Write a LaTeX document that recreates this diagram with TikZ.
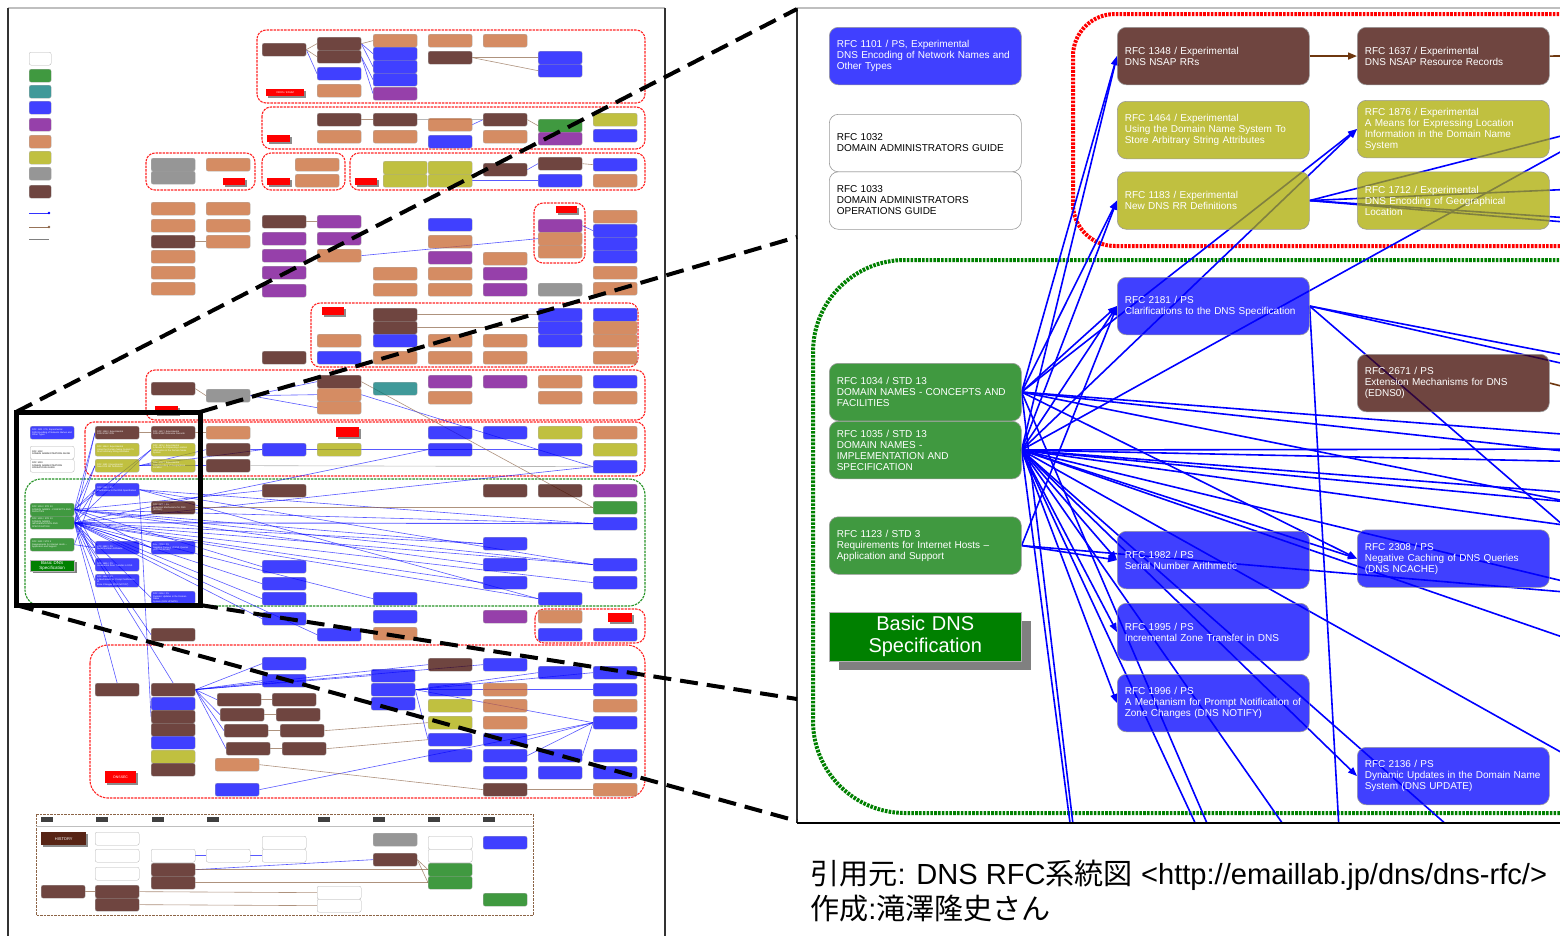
\documentclass[tikz,border=0pt]{standalone}
\usepackage{fontspec}
\setmainfont{Liberation Sans}
\newfontfamily\cjkfont{Noto Sans CJK JP}
\usetikzlibrary{arrows.meta,shadows}
\pgfdeclarelayer{back}
\pgfdeclarelayer{lines}
\pgfsetlayers{back,lines,main}
\definecolor{pblue}{RGB}{0,0,255}
\definecolor{pbrown}{RGB}{64,8,0}
\definecolor{polive}{RGB}{171,171,0}
\definecolor{pgreen}{RGB}{0,119,0}
\definecolor{ptan}{RGB}{200,102,48}
\definecolor{ppurple}{RGB}{115,0,142}
\definecolor{pgrey}{RGB}{115,115,115}
\definecolor{pteal}{RGB}{0,119,119}
\definecolor{cdgreen}{RGB}{0,128,0}
\definecolor{cline}{RGB}{0,0,255}
\definecolor{cred}{RGB}{255,0,0}
\definecolor{cbrline}{RGB}{110,55,15}
\definecolor{ctl}{RGB}{140,100,70}
\newcommand\rfcfont{\fontsize{10}{11}\selectfont}
\newcommand\tinyfont{\fontsize{2.28}{2.5}\selectfont}
\newcommand\rfcTa{RFC 1101 / PS, Experimental\\DNS Encoding of Network Names and\\Other Types}
\newcommand\rfcTb{RFC 1032\\DOMAIN ADMINISTRATORS GUIDE}
\newcommand\rfcTc{RFC 1033\\DOMAIN ADMINISTRATORS\\OPERATIONS GUIDE}
\newcommand\rfcTd{RFC 1348 / Experimental\\DNS NSAP RRs}
\newcommand\rfcTe{RFC 1637 / Experimental\\DNS NSAP Resource Records}
\newcommand\rfcTf{RFC 1464 / Experimental\\Using the Domain Name System To\\Store Arbitrary String Attributes}
\newcommand\rfcTg{RFC 1876 / Experimental\\A Means for Expressing Location\\Information in the Domain Name\\System}
\newcommand\rfcTh{RFC 1183 / Experimental\\New DNS RR Definitions}
\newcommand\rfcTi{RFC 1712 / Experimental\\DNS Encoding of Geographical\\Location}
\newcommand\rfcTj{RFC 2181 / PS\\Clarifications to the DNS Specification}
\newcommand\rfcTk{RFC 2671 / PS\\Extension Mechanisms for DNS\\(EDNS0)}
\newcommand\rfcTl{RFC 1034 / STD 13\\DOMAIN NAMES - CONCEPTS AND\\FACILITIES}
\newcommand\rfcTm{RFC 1035 / STD 13\\DOMAIN NAMES -\\IMPLEMENTATION AND\\SPECIFICATION}
\newcommand\rfcTn{RFC 1123 / STD 3\\Requirements for Internet Hosts –\\Application and Support}
\newcommand\rfcTo{RFC 1982 / PS\\Serial Number Arithmetic}
\newcommand\rfcTp{RFC 1995 / PS\\Incremental Zone Transfer in DNS}
\newcommand\rfcTq{RFC 1996 / PS\\A Mechanism for Prompt Notification of\\Zone Changes (DNS NOTIFY)}
\newcommand\rfcTr{RFC 2308 / PS\\Negative Caching of DNS Queries\\(DNS NCACHE)}
\newcommand\rfcTs{RFC 2136 / PS\\Dynamic Updates in the Domain Name\\System (DNS UPDATE)}
\begin{document}
\begin{tikzpicture}[x=1pt,y=-1pt,
 pbox/.style={draw=black!40, line width=0.6pt, rounded corners=9pt, minimum width=192pt, minimum height=57.5pt, text width=177pt, inner xsep=7.5pt, inner ysep=0pt, align=left, font=\rfcfont, text=white, anchor=north west, fill opacity=0.75, text opacity=1},
 tb/.style={draw=black!30, line width=0.3pt, rounded corners=2pt, minimum width=44pt, minimum height=13pt, inner sep=0pt, anchor=north west, fill opacity=0.75},
 tbt/.style={tb, text width=40pt, inner xsep=2pt, align=left, font=\tinyfont, text=white, text opacity=1},
 tleg/.style={tb, minimum width=22pt},
 glab/.style={fill=cred, inner sep=0pt, anchor=north west, drop shadow={shadow xshift=1.4pt, shadow yshift=-1.4pt, fill=black!45, opacity=1}, text=white, font=\fontsize{2.6}{3}\selectfont},
 ylab/.style={fill=black!75, minimum width=12pt, minimum height=5pt, inner sep=0pt, anchor=north west},
 tgrp/.style={draw=cred!85, line width=1.1pt, dash pattern=on 2.5pt off 1pt, rounded corners=9pt},
 tgrpg/.style={draw=cdgreen!85, line width=1.1pt, dash pattern=on 2.5pt off 1pt, rounded corners=16pt},
 hgrp/.style={draw=ctl, line width=1pt, dash pattern=on 2.5pt off 1pt},
 tln/.style={draw=cline, line width=0.6pt, draw opacity=0.65},
 tlb/.style={draw=ctl, line width=0.6pt, draw opacity=0.7},
 tlg/.style={draw=black!40, line width=0.6pt, draw opacity=0.7},
 pl/.style={draw=cline, line width=1.6pt},
 pla/.style={pl, -{Triangle[length=9pt,width=7pt]}},
 plb/.style={draw=cbrline, line width=1.6pt},
 rdot/.style={draw=cred, line width=4pt, dash pattern=on 2.6pt off 1.2pt, rounded corners=42pt},
 gdot/.style={draw=cdgreen, line width=4pt, dash pattern=on 2.6pt off 1.2pt, rounded corners=92pt},
 mag/.style={draw=black, line width=4pt, dash pattern=on 18pt off 9pt},
 basicbox/.style={draw=black!30, fill=cdgreen, minimum width=192pt, minimum height=49pt, text width=192pt, inner sep=0pt, align=center, font=\fontsize{20}{22}\selectfont, text=white, anchor=north west, drop shadow={shadow xshift=10pt, shadow yshift=-9pt, fill=black!50, opacity=1}},
 tbasic/.style={draw=black!30, fill=cdgreen, minimum width=44pt, minimum height=11pt, text width=44pt, inner sep=0pt, align=center, font=\fontsize{4.5}{5}\selectfont, text=white, anchor=north west, drop shadow={shadow xshift=2.3pt, shadow yshift=-2pt, fill=black!50, opacity=1}}
]
\useasboundingbox (0,0) rectangle (1560,935);
\begin{pgfonlayer}{back}
\fill[white] (0,0) rectangle (1560,935);
\end{pgfonlayer}

% ================= LEFT: thumbnail =================
\begin{pgfonlayer}{lines}
\draw[tgrp] (257,30) rectangle (645,103);
\draw[tgrp] (262,107) rectangle (645,149);
\draw[tgrp] (146,153) rectangle (255,190);
\draw[tgrp] (262,153) rectangle (345,190);
\draw[tgrp] (350,153) rectangle (645,190);
\draw[tgrp] (534,203) rectangle (585,263);
\draw[tgrp] (311,303) rectangle (638,367);
\draw[tgrp] (146,370) rectangle (645,420);
\draw[tgrp] (85,422) rectangle (645,476);
\draw[tgrpg] (25,479) rectangle (645,606);
\draw[tgrp] (535,609) rectangle (645,643);
\draw[tgrp, rounded corners=18pt] (90,645) rectangle (645,798);
\draw[hgrp] (36,814) rectangle (533,915);
\draw[black!25, line width=0.6pt] (36,826) -- (533,826);
\end{pgfonlayer}

% legend
\foreach \y/\c in {52/white,69/pgreen,85/pteal,101/pblue,118/ppurple,135/ptan,151/polive,167/pgrey,185/pbrown}
  {\node[tleg, fill=\c] (l\y) at (29,\y) {};}
\draw[tln, draw opacity=0.8] (29,213) -- (49,213); \fill[cline] (49,213) circle (1.3);
\draw[tlb, draw opacity=0.9] (29,227) -- (49,227); \fill[ctl] (49,227) circle (1.3);
\draw[black!50, line width=0.4pt] (29,239) -- (49,239);

% generic thumbnail boxes
\foreach \x/\y/\c in {262/43/pbrown,317/37/pbrown,317/50/pbrown,317/67/pblue,317/84/ptan,373/34/ptan,373/47/pblue,373/60/pblue,373/73/pblue,373/87/ppurple,428/34/ptan,428/51/pbrown,483/34/ptan,538/51/pblue,538/64/pblue,
317/113/pbrown,317/130/ptan,373/113/pbrown,373/130/ptan,428/118/ptan,428/135/pblue,483/113/pbrown,483/130/ptan,538/119/pgreen,538/132/ppurple,593/113/polive,593/129/pblue,
151/158/pgrey,151/171/pgrey,206/158/ptan,295/158/ptan,295/174/ptan,
383/161/polive,383/174/polive,428/161/polive,428/174/polive,483/163/pbrown,538/157/pbrown,538/174/pblue,593/158/pblue,593/174/ptan,
151/202/ptan,151/219/ptan,151/235/pbrown,151/250/ptan,151/266/ptan,151/282/ptan,206/202/ptan,206/219/ptan,206/235/ptan,262/215/pbrown,262/232/ppurple,262/249/ppurple,262/266/ppurple,262/284/ppurple,317/215/ppurple,317/232/ppurple,317/249/ptan,373/267/ptan,373/283/ptan,428/218/pblue,428/235/ptan,428/251/ppurple,428/267/ptan,428/283/ptan,483/252/ptan,483/267/ppurple,483/283/ppurple,538/219/ppurple,538/232/ptan,538/245/ptan,538/283/pgrey,593/210/ptan,593/224/pblue,593/237/pblue,593/250/pblue,593/266/ptan,593/282/ptan,
262/351/pbrown,317/334/ptan,317/351/pblue,373/308/pbrown,373/321/pbrown,373/334/pblue,373/351/ptan,428/334/ptan,428/351/ptan,483/334/ptan,483/351/ptan,538/308/pblue,538/321/pblue,538/334/pblue,593/308/pblue,593/321/ptan,593/334/ptan,593/351/ptan,
151/382/pbrown,206/389/pgrey,317/375/pbrown,317/388/ptan,317/401/ptan,373/382/pteal,428/375/ppurple,428/391/ptan,483/375/ppurple,538/375/ptan,538/391/ptan,593/375/pblue,593/391/ptan,
206/426/ptan,206/443/pbrown,206/459/pbrown,262/443/pblue,317/443/polive,428/426/pblue,428/443/pblue,483/426/pblue,538/426/polive,538/443/pblue,593/426/ptan,593/443/polive,593/460/pblue,
262/484/pbrown,262/560/pblue,262/577/pblue,262/592/pblue,373/592/pblue,483/484/pbrown,483/537/pblue,483/558/pblue,483/576/pblue,538/484/pbrown,538/592/pblue,593/484/ppurple,593/501/pgreen,593/517/pblue,593/558/pblue,593/576/pblue,
151/628/pbrown,262/612/pblue,317/628/pblue,373/610/pblue,373/627/ptan,483/610/ppurple,538/610/ptan,538/628/pblue,593/628/pblue,
95/683/pbrown,151/683/pbrown,151/697/pblue,151/710/pbrown,151/723/pbrown,151/736/pblue,151/750/polive,151/763/pbrown,217/693/pbrown,220/708/pbrown,224/724/pbrown,226/742/pbrown,215/758/ptan,215/783/pblue,272/693/pbrown,276/708/pbrown,280/724/pbrown,282/742/pbrown,262/657/pblue,262/674/pblue,371/669/pblue,371/683/pblue,371/697/pblue,428/658/pbrown,428/683/pblue,428/699/polive,428/716/polive,428/733/pblue,428/749/pblue,483/658/pblue,483/683/ptan,483/699/ptan,483/716/ptan,483/733/pblue,483/749/pblue,483/766/pblue,483/783/pbrown,538/666/pblue,538/749/pblue,538/766/pblue,593/666/pblue,593/683/pblue,593/699/ptan,593/716/pblue,593/749/pblue,593/766/pblue,593/783/ptan,
95/832/white,95/849/white,95/867/white,151/849/white,151/863/pbrown,151/876/pbrown,206/849/white,262/836/white,262/849/white,41/885/pbrown,95/885/pbrown,95/898/pbrown,317/886/white,317/899/white,373/833/pgrey,373/853/pbrown,428/836/white,428/849/white,428/863/pgreen,428/876/pgreen,483/836/pblue,483/893/pgreen}
  {\node[tb, fill=\c] (b\x-\y) at (\x,\y) {};}

% thumbnail boxes of the magnified part
\node[tbt, fill=pblue] (b30-426) at (30,426) {\rfcTa};
\node[tbt, fill=white, text=black] (b30-446) at (30,446) {\rfcTb};
\node[tbt, fill=white, text=black] (b30-459) at (30,459) {\rfcTc};
\node[tbt, fill=pgreen] (b30-503) at (30,503) {\rfcTl};
\node[tbt, fill=pgreen] (b30-516) at (30,516) {\rfcTm};
\node[tbt, fill=pgreen] (b30-538) at (30,538) {\rfcTn};
\node[tbasic] (b30-560) at (30,560) {Basic DNS\\Specification};
\node[tbt, fill=pbrown] (b95-426) at (95,426) {\rfcTd};
\node[tbt, fill=polive] (b95-443) at (95,443) {\rfcTf};
\node[tbt, fill=polive] (b95-459) at (95,459) {\rfcTh};
\node[tbt, fill=pblue] (b95-483) at (95,483) {\rfcTj};
\node[tbt, fill=pblue] (b95-541) at (95,541) {\rfcTo};
\node[tbt, fill=pblue] (b95-558) at (95,558) {\rfcTp};
\node[tbt, fill=pblue] (b95-574) at (95,574) {\rfcTq};
\node[tbt, fill=pbrown] (b151-426) at (151,426) {\rfcTe};
\node[tbt, fill=polive] (b151-443) at (151,443) {\rfcTg};
\node[tbt, fill=polive] (b151-459) at (151,459) {\rfcTi};
\node[tbt, fill=pbrown] (b151-501) at (151,501) {\rfcTk};
\node[tbt, fill=pblue] (b151-541) at (151,541) {\rfcTr};
\node[tbt, fill=pblue] (b151-591) at (151,591) {\rfcTs};

% group labels
\node[glab, minimum width=38pt, minimum height=7pt] (g1) at (266,89) {DDDS / ENUM};
\node[glab, minimum width=23pt, minimum height=7pt] (g2) at (267,135) {};
\node[glab, minimum width=22pt, minimum height=7pt] (g3) at (223,178) {};
\node[glab, minimum width=23pt, minimum height=7pt] (g4) at (267,178) {};
\node[glab, minimum width=22pt, minimum height=7pt] (g5) at (355,178) {};
\node[glab, minimum width=21pt, minimum height=7pt] (g6) at (556,206) {};
\node[glab, minimum width=22pt, minimum height=8pt] (g7) at (322,307) {};
\node[glab, minimum width=23pt, minimum height=8pt] (g8) at (155,406) {};
\node[glab, minimum width=23pt, minimum height=10pt] (g9) at (336,427) {};
\node[glab, minimum width=24pt, minimum height=9pt] (g11) at (608,613) {};
\node[glab, minimum width=31pt, minimum height=12pt, font=\fontsize{3.5}{4}\selectfont] (g12) at (105,771) {DNSSEC};
\node[fill=pbrown!70!ctl, minimum width=45pt, minimum height=13pt, inner sep=0pt, anchor=north west, text=white, font=\fontsize{4}{4.5}\selectfont, drop shadow={shadow xshift=2pt, shadow yshift=-2pt, fill=black!45, opacity=1}] (hist) at (41,832) {HISTORY};
\foreach \x in {41,96,152,207,318,373,428,483}
  {\node[ylab] (y\x) at (\x,817) {};}

% thumbnail connectors
\begin{pgfonlayer}{lines}
\foreach \a/\b in {b30-503.east/b95-426.west,b30-503.east/b95-459.west,b30-503.east/b95-483.west,b30-503.east/b151-443.west,b30-503.east/b262-484.west,b30-503.east/b483-537.west,b30-503.east/b593-517.west,b30-503.east/b593-558.west,b30-503.east/b262-560.west,b30-503.east/b95-541.west,b30-503.east/b151-541.west,b30-503.east/b483-558.west,b30-503.east/b95-558.west,
b30-516.east/b95-426.west,b30-516.east/b95-459.west,b30-516.east/b95-483.west,b30-516.east/b151-443.west,b30-516.east/b95-541.west,b30-516.east/b95-558.west,b30-516.east/b95-574.west,b30-516.east/b151-541.west,b30-516.east/b151-591.west,b30-516.east/b262-577.west,b30-516.east/b262-592.west,b30-516.east/b483-576.west,b30-516.east/b593-576.west,b30-516.east/b538-592.west,b30-516.east/b373-592.west,b30-516.east/b262-612.west,b30-516.east/b95-683.north,b30-516.east/b151-683.north,b30-516.east/b151-628.west,b30-516.east/b317-628.west,b30-516.east/b593-460.west,b30-516.east/b428-443.west,b30-516.east/b593-558.west,b30-516.east/b483-537.west,
b30-538.east/b95-541.west,b30-538.east/b95-483.west,
b95-483.east/b593-558.west,b95-483.east/b538-592.west,b95-483.east/b151-710.west,b95-483.east/b593-517.west,
b95-459.east/b206-443.west,b95-459.east/b206-459.west,b95-459.east/b262-443.west,
b206-389.east/b317-375.west,b206-389.east/b317-388.west,b206-389.east/b317-401.west,b317-388.east/b593-460.west,b206-443.east/b262-443.west,b262-443.east/b538-443.west,
b317-249.east/b538-232.west,b538-219.east/b593-224.west,b483-163.east/b538-157.west,b428-174.east/b538-174.west,b428-118.east/b483-113.west,
b262-43.east/b317-67.west,b317-37.east/b373-47.west,b317-37.east/b373-60.west,b317-50.east/b373-73.west,b317-50.east/b373-87.west,
b151-683.east/b217-693.west,b151-683.east/b220-708.west,b151-683.east/b224-724.west,b151-683.east/b226-742.west,b151-683.east/b262-657.west,b151-683.east/b262-674.west,b151-683.east/b371-669.west,b151-683.east/b428-658.west,b151-683.east/b483-658.west,
b371-683.east/b428-683.west,b371-683.east/b538-666.west,b371-683.east/b593-666.west,b371-683.east/b593-683.west,b371-683.east/b593-716.west,b371-683.east/b428-733.west,
b483-733.east/b593-716.west,b483-749.east/b593-716.west,b538-749.east/b593-716.west,b215-783.east/b593-716.west,
b151-849.east/b206-849.west,b206-849.east/b262-849.west,b151-863.east/b373-853.west}
  {\draw[tln] (\a) -- (\b);}
\draw[tln, line width=0.9pt] (b30-516.east) -- (b593-517.west);
\foreach \a/\b in {b95-426.east/b151-426.west,b151-426.east/b206-426.west,b151-382.east/b206-389.west,b317-375.east/b593-501.west,b151-501.east/b593-501.west,
b262-43.east/b317-37.west,b262-43.east/b317-50.west,b317-37.east/b373-34.west,b428-51.east/b538-51.west,b428-51.east/b538-64.west,
b317-113.east/b373-113.west,b483-113.east/b538-119.west,b538-157.east/b593-158.west,
b262-215.east/b317-215.west,b151-235.east/b206-235.west,
b373-308.east/b538-308.west,b373-321.east/b538-321.west,
b217-693.east/b272-693.west,b220-708.east/b276-708.west,b224-724.east/b280-724.west,b226-742.east/b282-742.west,b280-724.east/b428-716.west,b282-742.east/b428-733.west,
b483-783.east/b593-783.west,b215-758.east/b483-783.west,
b41-885.east/b95-885.west,b95-885.east/b317-886.west,b95-898.east/b317-899.west,b151-876.east/b428-876.west,b151-863.east/b428-863.west,b373-853.east/b428-863.west,b373-853.east/b428-876.west}
  {\draw[tlb] (\a) -- (\b);}
\foreach \a/\b in {b373-113.east/b483-113.west,b206-459.east/b593-460.west}
  {\draw[tlg] (\a) -- (\b);}
\end{pgfonlayer}

% left frame
\draw[black!25, line width=1.2pt] (8,8) -- (665,8);
\draw[black!80, line width=1.5pt] (8,8) -- (8,940);
\draw[black!80, line width=1.5pt] (665,8) -- (665,940);

% ================= RIGHT: magnified panel =================
\node[pbox, fill=pblue] (p1101) at (829,27) {\rfcTa};
\node[pbox, fill=white, text=black] (p1032) at (829,114) {\rfcTb};
\node[pbox, fill=white, text=black] (p1033) at (829,171.5) {\rfcTc};
\node[pbox, fill=pbrown] (p1348) at (1117,27) {\rfcTd};
\node[pbox, fill=pbrown] (p1637) at (1357,27) {\rfcTe};
\node[pbox, fill=polive] (p1464) at (1117,101) {\rfcTf};
\node[pbox, fill=polive] (p1876) at (1357,100) {\rfcTg};
\node[pbox, fill=polive] (p1183) at (1117,171.5) {\rfcTh};
\node[pbox, fill=polive] (p1712) at (1357,171.5) {\rfcTi};
\node[pbox, fill=pblue] (p2181) at (1117,277) {\rfcTj};
\node[pbox, fill=pbrown] (p2671) at (1357,354) {\rfcTk};
\node[pbox, fill=pgreen] (p1034) at (829,363) {\rfcTl};
\node[pbox, fill=pgreen] (p1035) at (829,421) {\rfcTm};
\node[pbox, fill=pgreen] (p1123) at (829,516.5) {\rfcTn};
\node[pbox, fill=pblue] (p1982) at (1117,531) {\rfcTo};
\node[pbox, fill=pblue] (p1995) at (1117,603) {\rfcTp};
\node[pbox, fill=pblue] (p1996) at (1117,674) {\rfcTq};
\node[pbox, fill=pblue] (p2308) at (1357,529.5) {\rfcTr};
\node[pbox, fill=pblue] (p2136) at (1357,747) {\rfcTs};
\node[basicbox] (pbasic) at (829,612) {Basic DNS\\Specification};

\begin{pgfonlayer}{lines}
\begin{scope}
\clip (797,8) rectangle (1560,823);
\draw[rdot] (1620,14) -- (1073,14) -- (1073,246) -- (1620,246);
\draw[gdot] (1620,260) -- (813,260) -- (813,813) -- (1620,813);
\coordinate (q1) at (1080,900); \coordinate (q2) at (1082,900);
\coordinate (q3) at (1231,900); \coordinate (q4) at (1240,900);
\coordinate (q5) at (1336,900); \coordinate (q6) at (1532,900);
\coordinate (q7) at (1343,900);
\coordinate (r1) at (1600,437); \coordinate (r2) at (1600,455);
\coordinate (r3) at (1600,508); \coordinate (r4) at (1600,449);
\coordinate (r5) at (1600,462); \coordinate (r6) at (1600,495);
\coordinate (r7) at (1600,505); \coordinate (r8) at (1600,530);
\coordinate (r9) at (1600,130); \coordinate (r10) at (1600,774);
\coordinate (r11) at (1600,650); \coordinate (r12) at (1600,590);
\coordinate (r13) at (1600,595); \coordinate (r14) at (1600,362);
\coordinate (r15) at (1600,372); \coordinate (r16) at (1600,557);
\coordinate (r17) at (1600,188); \coordinate (r18) at (1600,220);
\coordinate (r19) at (1600,225); \coordinate (r20) at (1600,126);
\coordinate (r21) at (1600,56); \coordinate (r22) at (1600,396);
\foreach \a/\b in {p1034/p1348,p1035/p1348,p1034/p1183,p1035/p1183,p1034/p2181,p1035/p2181,p1123/p2181,p1034/p1876,p1035/p1876,p1035/p1982,p1123/p1982,p1035/p1995,p1035/p1996,p1034/p2308,p1035/p2308,p1035/p2136}
  {\draw[pla] (\a.east) -- (\b.west);}
\foreach \a/\b in {p1035/q1,p1034/q2,p1035/q3,p1034/q4,p1035/q5,p1035/q6,p2181/q7,p1034/r1,p1034/r2,p1034/r3,p1035/r4,p1035/r5,p1035/r6,p1035/r7,p1035/r8,p1035/r9,p1035/r10,p1035/r11,p1035/r12,p1123/r13,p2181/r14,p2181/r15,p2181/r16,p1183/r17,p1183/r18,p1183/r19,p1183/r20}
  {\draw[pl] (\a.east) -- (\b);}
\draw[plb, -{Triangle[length=9pt,width=7pt]}] (p1348.east) -- (p1637.west);
\draw[plb] (p1637.east) -- (r21);
\draw[plb] (p2671.east) -- (r22);
\end{scope}
\end{pgfonlayer}

% right frame
\draw[black!25, line width=1.2pt] (797,8) -- (1560,8);
\draw[black!80, line width=1.5pt] (797,8) -- (797,823);
\draw[black, line width=2.5pt] (797,823) -- (1560,823);

% caption
\node[anchor=base west, inner sep=0pt, font=\fontsize{29.1}{30}\selectfont] (cap1) at (810,884) {{\cjkfont 引用元}: DNS RFC{\cjkfont 系統図} <http://emaillab.jp/dns/dns-rfc/>};
\node[anchor=base west, inner sep=0pt, font=\fontsize{29.1}{30}\selectfont] (cap2) at (810,919) {{\cjkfont 作成}:{\cjkfont 滝澤隆史さん}};

% magnifier
\coordinate (mtl) at (16,412); \coordinate (mtr) at (200,412);
\coordinate (mbl) at (16,605); \coordinate (mbr) at (200,605);
\coordinate (ztl) at (797,9); \coordinate (zml) at (797,237);
\coordinate (zbl) at (797,821); \coordinate (zbr) at (797,699);
\draw[mag] (mtl) -- (ztl);
\draw[mag] (mtr) -- (zml);
\draw[mag] (mbl) -- (zbl);
\draw[mag] (mbr) -- (zbr);
\draw[black, line width=5pt] (mtl) rectangle (mbr);
\end{tikzpicture}
\end{document}
